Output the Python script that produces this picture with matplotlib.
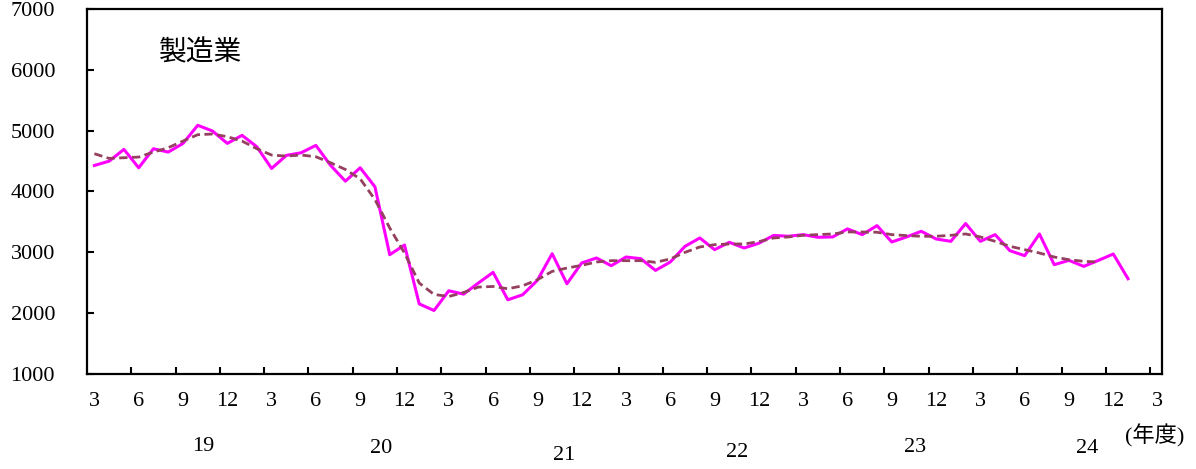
import matplotlib
matplotlib.use('Agg')
import matplotlib.pyplot as plt
import matplotlib.transforms as mtrans

plt.rcParams['font.family'] = ['Liberation Serif', 'Noto Sans CJK JP']

# 製造業 月次 (2019年3月 ～ 2025年1月)
values = [4428, 4499, 4692, 4390, 4703, 4648, 4790, 5088, 4994, 4791,
          4923, 4736, 4379, 4593, 4637, 4758, 4428, 4170, 4390, 4077,
          2961, 3120, 2152, 2044, 2368, 2313, 2495, 2671, 2220, 2302,
          2540, 2978, 2483, 2825, 2907, 2780, 2923, 2896, 2703, 2841,
          3099, 3236, 3044, 3165, 3071, 3150, 3278, 3264, 3291, 3248,
          3253, 3385, 3291, 3439, 3170, 3253, 3346, 3220, 3181, 3473,
          3181, 3291, 3027, 2945, 3302, 2797, 2868, 2769, 2868, 2973,
          2566]
# 移動平均 (2019年3月 ～ 2024年11月)
trend = [4621, 4544, 4555, 4566, 4648, 4720, 4829, 4934, 4945, 4901,
         4829, 4703, 4599, 4582, 4600, 4571, 4472, 4362, 4208, 3868,
         3401, 2989, 2495, 2308, 2274, 2340, 2429, 2439, 2401, 2450,
         2549, 2687, 2742, 2786, 2841, 2863, 2863, 2863, 2836, 2891,
         3000, 3088, 3126, 3137, 3137, 3176, 3236, 3253, 3280, 3291,
         3302, 3335, 3335, 3330, 3291, 3275, 3264, 3264, 3280, 3302,
         3253, 3181, 3099, 3044, 2989, 2923, 2879, 2852, 2841]

month_labels = ['3', '6', '9', '12'] * 6 + ['3']
year_labels = ['19', '20', '21', '22', '23', '24']
year_x = [7.4, 19.4, 31.8, 43.5, 55.6, 67.2]
year_py = [446, 448, 455, 452, 447, 448]

fig = plt.figure(figsize=(11.96, 4.69), dpi=100)
ax = fig.add_axes([87 / 1196, 1 - 374 / 469, (1162 - 87) / 1196, 365 / 469])

ax.plot(range(len(values)), values, color='#FF00FF', lw=2.2, zorder=3)
ax.plot(range(len(trend)), trend, color='#94405E', lw=2.0,
        ls=(0, (3.0, 1.6)), zorder=4)

ax.set_xlim(-0.5, 72.3)
ax.set_ylim(1000, 7000)
ax.set_yticks(range(1000, 7001, 1000))
ax.set_xticks([i + 2.5 for i in range(0, 72, 3)])
ax.set_xticklabels([])
ax.set_xticks(range(0, 73, 3), minor=True)
ax.set_xticklabels(month_labels, minor=True)

ax.tick_params(axis='x', which='major', direction='in', length=5, width=1.5)
ax.tick_params(axis='x', which='minor', length=0, pad=13, labelsize=16)
ax.tick_params(axis='y', direction='in', length=5, width=1.5, pad=23,
               labelsize=16)
for s in ax.spines.values():
    s.set_linewidth(1.6)

ax.text(0.106, 0.88, '製造業', transform=ax.transAxes, fontsize=20,
        ha='center', va='center', family=['Noto Sans CJK JP'])

trans = mtrans.blended_transform_factory(ax.transData, fig.transFigure)
for lab, x, py in zip(year_labels, year_x, year_py):
    ax.text(x, 1 - py / 469, lab, transform=trans, fontsize=16,
            ha='center', va='center')
fig.text(1155 / 1196, 1 - 436 / 469, '(年度)', fontsize=16,
         ha='center', va='center')

fig.savefig('out.png', dpi=100)
